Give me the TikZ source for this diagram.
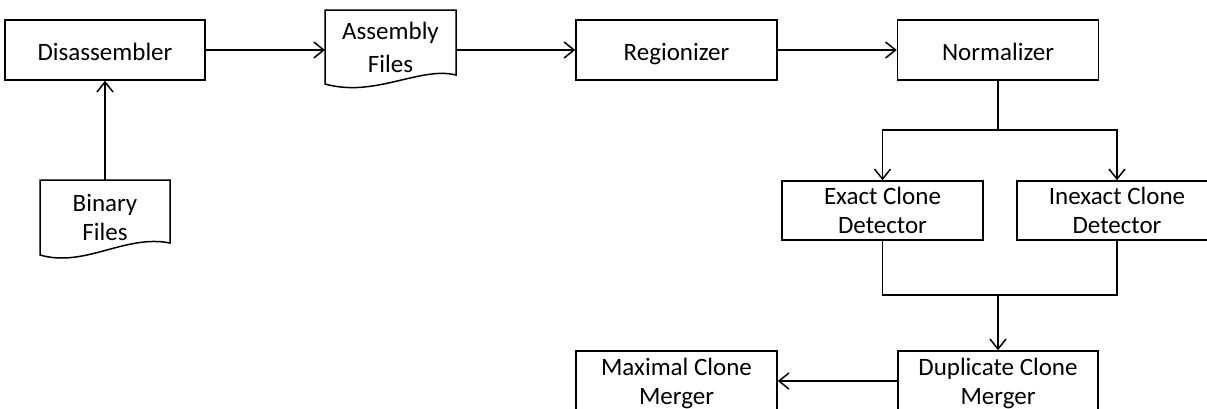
\documentclass[tikz,border=0pt]{standalone}
\usepackage{fontspec}
\setmainfont{Carlito}
\usetikzlibrary{arrows.meta,calc}
\newcommand{\pushdown}[1]{\rule{0pt}{#1pt}}
\begin{document}
\begin{tikzpicture}[x=1pt,y=-1pt,
  every node/.style={font=\fontsize{25}{29}\selectfont, align=center, inner sep=0pt},
  proc/.style={draw, line width=1.5pt, minimum width=201pt, minimum height=60pt},
  oneline/.style={text height=20pt, text depth=0pt},
  docnode/.style={minimum width=131pt, minimum height=60pt},
  docline/.style={line width=1.5pt, line join=miter},
  conn/.style={line width=1.5pt},
  arr/.style={conn, -{Straight Barb[length=10pt,width=16pt,line width=1.5pt]}}]
\useasboundingbox (0,0) rectangle (1207,408);
\clip (0,0) rectangle (1207,408);
\fill[white] (0,0) rectangle (1207,408);
% process boxes
\node[proc, oneline, minimum width=200pt] (dis) at (105,50) {Disassembler};
\node[proc, oneline] (reg) at (676.5,50) {Regionizer};
\node[proc, oneline] (norm) at (998,50) {Normalizer};
\node[proc, minimum height=59pt] (exact) at (882.5,210.5) {Exact Clone\\Detector};
\node[proc, minimum width=200pt, minimum height=59pt] (inexact) at (1117,210.5) {Inexact Clone\\Detector};
\node[proc, minimum width=200pt] (dup) at (998,381) {\pushdown{23}Duplicate Clone\\Merger};
\node[proc] (max) at (676.5,381) {\pushdown{23}Maximal Clone\\Merger};
% document shapes
\node[docnode, font=\fontsize{25}{33}\selectfont] (asm) at (390.5,47) {Assembly\\Files};
\draw[docline] (325,10) -- (456,10) -- (456,75)
  .. controls (420,66) and (375,98) .. (325,84) -- cycle;
\node[docnode] (bin) at (105,217) {Binary\\Files};
\draw[docline] (40,180) -- (170,180) -- (170,243)
  .. controls (125,234) and (85,268) .. (40,255) -- cycle;
% connectors
\coordinate (split) at (998,130);
\coordinate (merge) at (998,295);
\draw[arr] (105,180) -- (dis.south);
\draw[arr] (dis.east) -- (325,50);
\draw[arr] (456,50) -- (reg.west);
\draw[arr] (reg.east) -- (norm.west);
\draw[conn] (norm.south) -- (split);
\draw[arr] (split) -| (exact.north);
\draw[arr] (split) -| (inexact.north);
\draw[conn] (exact.south) |- (merge);
\draw[conn] (inexact.south) |- (merge);
\draw[arr] (merge) -- (dup.north);
\draw[arr] (dup.west) -- (max.east);
\end{tikzpicture}
\end{document}
